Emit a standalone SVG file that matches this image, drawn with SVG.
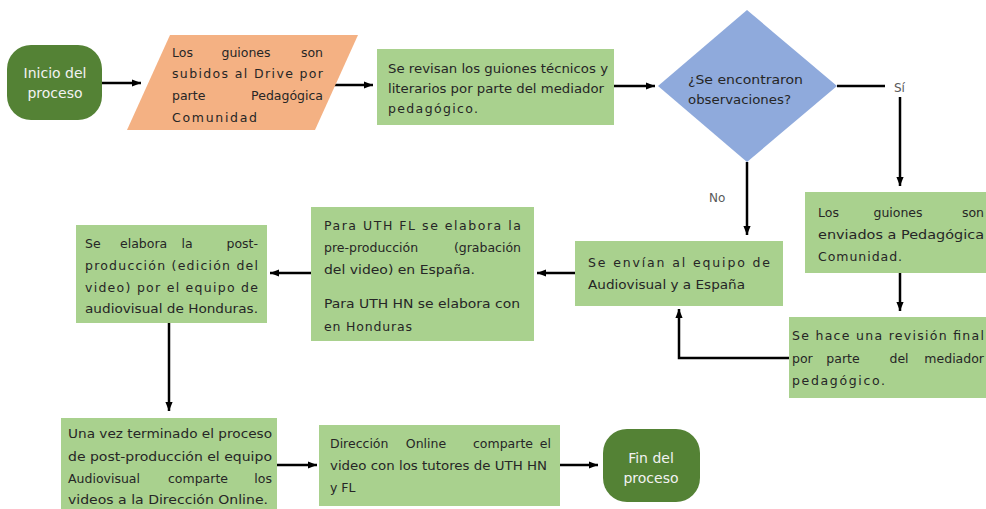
<svg xmlns="http://www.w3.org/2000/svg" width="986" height="509" viewBox="0 0 986 509">
<style>
  .box{fill:#a9d18e;}
  .term{fill:#548235;}
  .io{fill:#f4b183;}
  .dec{fill:#8faadc;}
  text{font-family:"DejaVu Sans","Liberation Sans",sans-serif;font-size:12.5px;fill:#262626;}
  .tt{fill:#f2f2f2;font-size:14px;text-anchor:middle;}
  .lbl{fill:#595959;font-size:12px;}
  .c{fill:none;stroke:#000;stroke-width:2.5;}
  .m{text-anchor:middle;}
  .e{text-anchor:end;}
</style>
<defs>
  <marker id="ah" viewBox="0 0 10 8" refX="10" refY="4" markerWidth="9" markerHeight="8" markerUnits="userSpaceOnUse" orient="auto">
    <path d="M0,0 L10,4 L0,8 Z" fill="#000"/>
  </marker>
</defs>
<rect width="986" height="509" fill="#fff"/>

<g id="connectors">
  <path class="c" d="M102,83 H141" marker-end="url(#ah)"/>
  <path class="c" d="M333,85 H373" marker-end="url(#ah)"/>
  <path class="c" d="M614,86 H655" marker-end="url(#ah)"/>
  <path class="c" d="M837,86 H885"/>
  <path class="c" d="M900,97 V186" marker-end="url(#ah)"/>
  <path class="c" d="M900,273 V311" marker-end="url(#ah)"/>
  <path class="c" d="M747,162 V235" marker-end="url(#ah)"/>
  <path class="c" d="M789,358 H679 V309" marker-end="url(#ah)"/>
  <path class="c" d="M575,273 H537" marker-end="url(#ah)"/>
  <path class="c" d="M311,273 H270" marker-end="url(#ah)"/>
  <path class="c" d="M169,323 V411" marker-end="url(#ah)"/>
  <path class="c" d="M277,465 H317" marker-end="url(#ah)"/>
  <path class="c" d="M560,465 H598" marker-end="url(#ah)"/>
  <text class="lbl" x="894" y="92">Sí</text>
  <text class="lbl" x="709" y="202">No</text>
</g>

<g id="n-start">
  <rect class="term" x="7" y="45" width="95" height="75" rx="24" ry="24"/>
  <text class="tt" x="55" y="78">Inicio del</text>
  <text class="tt" x="55" y="98">proceso</text>
</g>

<g id="n-upload">
  <polygon class="io" points="170,35 358,35 315,130 127,130"/>
  <text y="57"><tspan x="172">Los</tspan> <tspan x="248" class="m">guiones</tspan> <tspan x="323" class="e">son</tspan></text>
  <text x="172" y="78" textLength="151" lengthAdjust="spacing">subidos al Drive por</text>
  <text y="100"><tspan x="172">parte</tspan> <tspan x="323" class="e">Pedagógica</tspan></text>
  <text x="172" y="122" textLength="85" lengthAdjust="spacing">Comunidad</text>
</g>

<g id="n-review">
  <rect class="box" x="377" y="49" width="237" height="76"/>
  <text x="388" y="73" textLength="220" lengthAdjust="spacingAndGlyphs">Se revisan los guiones técnicos y</text>
  <text x="388" y="93" textLength="216" lengthAdjust="spacingAndGlyphs">literarios por parte del mediador</text>
  <text x="388" y="113" textLength="90" lengthAdjust="spacing">pedagógico.</text>
</g>

<g id="n-decision">
  <polygon class="dec" points="747,10 837,86 747,162 658,86"/>
  <text x="688" y="84" textLength="115" lengthAdjust="spacingAndGlyphs">¿Se encontraron</text>
  <text x="688" y="104" textLength="103" lengthAdjust="spacingAndGlyphs">observaciones?</text>
</g>

<g id="n-sent-ped">
  <rect class="box" x="805" y="192" width="185" height="81"/>
  <text y="217"><tspan x="818">Los</tspan> <tspan x="900" class="m">guiones</tspan> <tspan x="984" class="e">son</tspan></text>
  <text x="818" y="239" textLength="166" lengthAdjust="spacingAndGlyphs">enviados a Pedagógica</text>
  <text x="818" y="261" textLength="84" lengthAdjust="spacing">Comunidad.</text>
</g>

<g id="n-final-review">
  <rect class="box" x="789" y="317" width="201" height="81"/>
  <text x="792" y="340" textLength="192" lengthAdjust="spacing">Se hace una revisión final</text>
  <text y="363"><tspan x="792">por</tspan> <tspan x="845" class="m">parte</tspan> <tspan x="901" class="m">del</tspan> <tspan x="984" class="e">mediador</tspan></text>
  <text x="792" y="385" textLength="93" lengthAdjust="spacing">pedagógico.</text>
</g>

<g id="n-sent-av">
  <rect class="box" x="575" y="241" width="208" height="65"/>
  <text x="588" y="267" textLength="182" lengthAdjust="spacing">Se envían al equipo de</text>
  <text x="588" y="289" textLength="157" lengthAdjust="spacingAndGlyphs">Audiovisual y a España</text>
</g>

<g id="n-preprod">
  <rect class="box" x="311" y="207" width="223" height="134"/>
  <text x="324" y="230" textLength="197" lengthAdjust="spacing">Para UTH FL se elabora la</text>
  <text y="252"><tspan x="324">pre-producción</tspan> <tspan x="521" class="e">(grabación</tspan></text>
  <text x="324" y="274" textLength="151" lengthAdjust="spacingAndGlyphs">del video) en España.</text>
  <text x="324" y="308" textLength="196" lengthAdjust="spacingAndGlyphs">Para UTH HN se elabora con</text>
  <text x="324" y="331" textLength="88" lengthAdjust="spacing">en Honduras</text>
</g>

<g id="n-postprod">
  <rect class="box" x="76" y="225" width="191" height="98"/>
  <text y="248"><tspan x="85">Se</tspan> <tspan x="120">elabora</tspan> <tspan x="189" class="m">la</tspan> <tspan x="258" class="e">post-</tspan></text>
  <text x="85" y="270" textLength="173" lengthAdjust="spacing">producción (edición del</text>
  <text x="85" y="292" textLength="173" lengthAdjust="spacing">video) por el equipo de</text>
  <text x="85" y="313" textLength="173" lengthAdjust="spacingAndGlyphs">audiovisual de Honduras.</text>
</g>

<g id="n-share">
  <rect class="box" x="61" y="418" width="216" height="95"/>
  <text x="68" y="438" textLength="204" lengthAdjust="spacingAndGlyphs">Una vez terminado el proceso</text>
  <text x="68" y="461" textLength="204" lengthAdjust="spacingAndGlyphs">de post-producción el equipo</text>
  <text y="483"><tspan x="68">Audiovisual</tspan> <tspan x="200" class="m">comparte</tspan> <tspan x="272" class="e">los</tspan></text>
  <text x="68" y="504" textLength="200" lengthAdjust="spacingAndGlyphs">videos a la Dirección Online.</text>
</g>

<g id="n-online">
  <rect class="box" x="319" y="425" width="241" height="81"/>
  <text y="448"><tspan x="330">Dirección</tspan> <tspan x="428" class="m">Online</tspan> <tspan x="505" class="m">comparte</tspan> <tspan x="551" class="e">el</tspan></text>
  <text x="330" y="470" textLength="217" lengthAdjust="spacingAndGlyphs">video con los tutores de UTH HN</text>
  <text x="330" y="492">y FL</text>
</g>

<g id="n-end">
  <rect class="term" x="603" y="429" width="97" height="73" rx="24" ry="24"/>
  <text class="tt" x="651" y="463">Fin del</text>
  <text class="tt" x="651" y="483">proceso</text>
</g>
</svg>
